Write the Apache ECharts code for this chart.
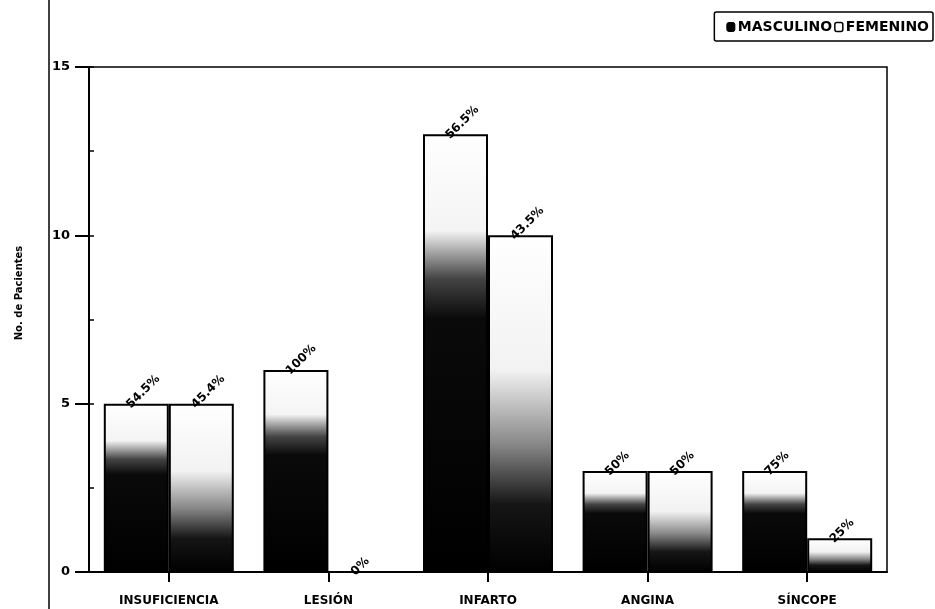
<!DOCTYPE html>
<html><head><meta charset="utf-8">
<script src="https://cdn.jsdelivr.net/npm/echarts@6/dist/echarts.min.js"></script>
<style>html,body{margin:0;padding:0;background:#fff}#c{width:935px;height:609px}</style>
</head><body><div id="c"></div>
<script>
var categories = ['INSUFICIENCIA', 'LESIÓN', 'INFARTO', 'ANGINA', 'SÍNCOPE'];
var masculino = [5, 6, 13, 3, 3];
var femenino = [5, 0, 10, 3, 1];
var pctMasculino = ['54.5%', '100%', '56.5%', '50%', '75%'];
var pctFemenino = ['45.4%', '0%', '43.5%', '50%', '25%'];
var yTicks = [0, 5, 10, 15];

var font = 'DejaVu Sans';
function grad(stops){
  return new echarts.graphic.LinearGradient(0,0,0,1,stops.map(function(s){return {offset:s[0],color:s[1]};}));
}
var gradM = grad([[0,'#ffffff'],[0.22,'#f4f4f4'],[0.33,'#444'],[0.42,'#0a0a0a'],[1,'#000']]);
var gradF = grad([[0,'#ffffff'],[0.4,'#f2f2f2'],[0.62,'#888'],[0.8,'#151515'],[1,'#000']]);

function lbl(arr){
  return {show:true, position:'top', distance:5, rotate:45, align:'left', verticalAlign:'middle',
    offset:[-11,0],
    color:'#000', fontFamily:font, fontWeight:'bold', fontSize:12,
    formatter:function(p){return arr[p.dataIndex];}};
}

var chart = echarts.init(document.getElementById('c'));
chart.setOption({
  backgroundColor:'#fff',
  animation:false,
  legend:{
    right:2, top:12, itemGap:2, itemWidth:8, itemHeight:9,
    borderColor:'#000', borderWidth:1.5, borderRadius:2, padding:[8,4,7,12],
    textStyle:{fontFamily:font, fontWeight:'bold', fontSize:14, color:'#000', padding:[0,0,0,-2]},
    data:[
      {name:'MASCULINO', itemStyle:{color:'#000', borderColor:'#000', borderWidth:1}},
      {name:'FEMENINO', itemStyle:{color:'#fff', borderColor:'#000', borderWidth:1.5}}
    ]
  },
  grid:{left:89, right:48, top:67, bottom:37, show:true, borderColor:'#000', borderWidth:1.5, backgroundColor:'transparent'},
  xAxis:{
    type:'category', data:categories,
    axisLine:{lineStyle:{color:'#000', width:2}},
    axisTick:{show:true, alignWithLabel:true, length:10, lineStyle:{color:'#000', width:2}},
    axisLabel:{fontFamily:font, fontWeight:'bold', fontSize:12, color:'#000', margin:23}
  },
  yAxis:[{
    type:'value', min:0, max:15, interval:5,
    axisLine:{show:true, lineStyle:{color:'#000', width:2}},
    axisTick:{show:true, length:14, lineStyle:{color:'#000', width:2}},
    axisLabel:{fontFamily:font, fontWeight:'bold', fontSize:13, color:'#000', margin:19,
      formatter:function(v){return yTicks.indexOf(v)>=0 ? String(v) : '';}},
    splitLine:{show:false}
  },{
    type:'value', min:0, max:15, interval:2.5, position:'left',
    axisLine:{show:false},
    axisTick:{show:true, inside:true, length:5, lineStyle:{color:'#000', width:1.5}},
    axisLabel:{show:false}, splitLine:{show:false}
  }],
  series:[
    {name:'MASCULINO', type:'bar', data:masculino, barWidth:65, barGap:'0%',
      itemStyle:{color:gradM, borderColor:'#000', borderWidth:2},
      label:lbl(pctMasculino)},
    {name:'FEMENINO', type:'bar', data:femenino, barWidth:65, barGap:'0%',
      itemStyle:{color:gradF, borderColor:'#000', borderWidth:2},
      label:lbl(pctFemenino)}
  ],
  graphic:[
    {type:'line', shape:{x1:49,y1:0,x2:49,y2:609}, style:{stroke:'#000', lineWidth:1.5}},
    {type:'text', x:19, y:293, rotation:Math.PI/2,
      style:{text:'No. de Pacientes', font:'bold 10px "DejaVu Sans"', fill:'#000', align:'center', verticalAlign:'middle'}}
  ]
});
</script></body></html>
